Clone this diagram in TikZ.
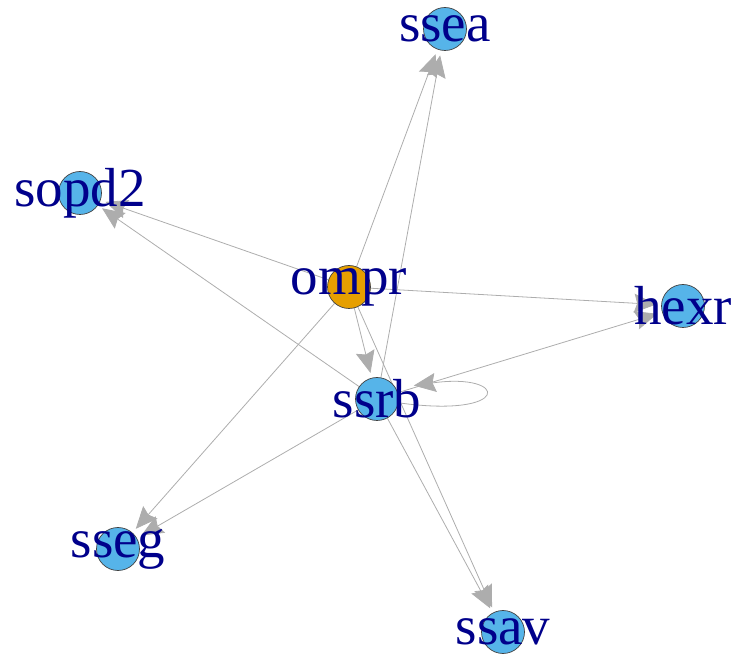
\documentclass[tikz,border=0pt]{standalone}
\usepackage{fontspec}
\setmainfont{Liberation Serif}
\usetikzlibrary{arrows.meta,backgrounds}
\definecolor{vertexblue}{HTML}{56B4E9}
\definecolor{vertexorange}{HTML}{E69F00}
\definecolor{labelblue}{HTML}{00008B}
\definecolor{edgegray}{HTML}{ADADAD}
\tikzset{
  vertex/.style={circle, draw=black!75, line width=0.7pt, minimum size=43pt, inner sep=0pt, fill=vertexblue},
  regvertex/.style={vertex, fill=vertexorange},
  vlabel/.style={text=labelblue, inner sep=0pt, font=\fontsize{55}{60}\selectfont},
  edge/.style={edgegray, line width=0.8pt, -{Stealth[length=22pt,width=19pt,inset=3pt]}, shorten >=5pt}
}
\begin{document}
\begin{tikzpicture}[x=1pt,y=-1pt]
  \useasboundingbox (0,0) rectangle (740,660);
  \node[vertex] (ssea) at (445,29) {};
  \node[vertex] (sopd2) at (80,193) {};
  \node[regvertex] (ompr) at (349,287) {};
  \node[vertex] (hexr) at (683,306) {};
  \node[vertex] (ssrb) at (377,399) {};
  \node[vertex] (sseg) at (118,549) {};
  \node[vertex] (ssav) at (503,632) {};
  \begin{scope}[on background layer]
    \foreach \tgt in {ssea,sopd2,hexr,sseg,ssav}{
      \draw[edge] (ompr) -- (\tgt);
      \draw[edge] (ssrb) -- (\tgt);
    }
    \draw[edge] (ompr) -- (ssrb);
    % self-loop on ssrb
    \draw[edge, shorten >=18pt] (ssrb.-10) .. controls +(-8:115pt) and +(8:115pt) .. (ssrb.30);
  \end{scope}
  \foreach \v in {ssea,sopd2,ompr,hexr,ssrb,sseg,ssav}{
    \node[vlabel] at (\v) {\v};
  }
\end{tikzpicture}
\end{document}
